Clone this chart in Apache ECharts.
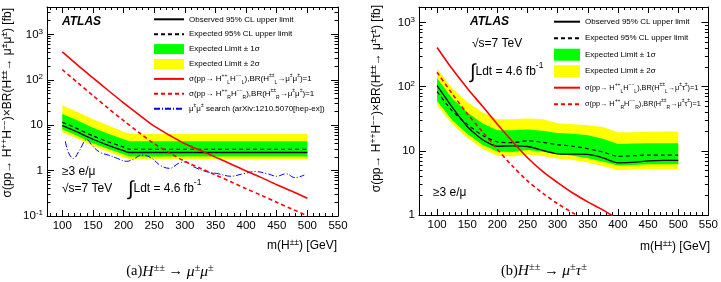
<!DOCTYPE html>
<html><head><meta charset="utf-8">
<script src="https://cdn.jsdelivr.net/npm/echarts@6/dist/echarts.min.js"></script>
<style>html,body{margin:0;padding:0;background:#fff}#c{width:721px;height:282px}</style>
</head><body><div id="c"></div>
<script>
// ---------- DATA: panel (a) H±± → μ±μ± ----------
const massTheoryA = [100,125,150,175,200,225,250,275,300,325,350,375,400,425,450,475,500];
const sigmaLA = [410,210,110,58,31,17,9.5,6.0,3.9,2.8,1.98,1.4,0.98,0.7,0.49,0.35,0.245];
const sigmaRA = [168,86,45,23.5,12.6,6.9,3.9,2.45,1.6,1.13,0.8,0.57,0.4,0.285,0.2,0.142,0.1];
const massLimA = [100,110,125,150,175,200,210,250,300,350,400,450,500];
const obsA    = [9.8,8.6,7.0,4.9,3.6,2.75,2.5,2.5,2.5,2.5,2.5,2.5,2.5];
const expA    = [11.5,10.2,8.3,5.8,4.3,3.3,2.95,2.95,2.95,2.95,2.95,2.95,2.95];
const oneUpA  = [17.6,15.5,12.6,8.8,6.5,4.9,4.4,4.4,4.4,4.4,4.4,4.4,4.4];
const oneDnA  = [8.0,7.1,5.8,4.0,3.0,2.3,2.05,2.05,2.05,2.05,2.05,2.05,2.05];
const twoUpA  = [27,24,19.5,13.5,9.8,7.2,6.4,6.4,6.4,6.4,6.4,6.4,6.4];
const twoDnA  = [6.9,6.1,5.0,3.5,2.6,1.95,1.78,1.78,1.78,1.78,1.78,1.78,1.78];
const massBlueA = [105,110,118,128,140,150,162,175,190,205,215,230,245,260,275,290,300,315,335,355,375,395,415,435,450,465,480,495];
const blueA     = [4.4,2.5,1.85,2.8,4.8,3.4,2.5,2.2,1.85,1.6,1.75,2.2,1.9,1.3,1.12,1.45,1.55,1.2,0.95,0.85,0.75,0.85,0.95,0.85,0.75,0.85,0.7,0.8];

// ---------- DATA: panel (b) H±± → μ±τ± ----------
const massTheoryB = [100,125,150,175,200,225,250,275,300,325,350,375,400];
const sigmaLB = [410,190,95,50,26,14,7.8,4.8,3.2,2.2,1.6,1.2,0.85];
const sigmaRB = [168,78,38,20,10.5,5.8,3.4,2.2,1.5,1.08,0.78,0.57,0.42];
const massLimB = [100,125,150,175,200,225,250,275,300,325,350,375,400,425,450,475,500];
const obsB   = [104,48,24,15,11.8,12.0,11.7,10.2,9.0,8.9,8.8,7.8,6.5,6.6,7.0,7.1,7.1];
const expB   = [84,42,26,17.5,13.8,13.4,14.4,13.6,12.5,11.8,10.8,9.6,8.2,8.4,8.6,8.6,8.6];
const oneUpB = [135,66,40,27,21,21,21.5,20.5,19,18.5,17.5,15.5,12.8,13,13.2,13.2,13.2];
const oneDnB = [60,30,18.5,12.5,9.8,9.6,10.3,9.7,8.9,8.4,7.7,6.8,5.9,6.0,6.2,6.2,6.2];
const twoUpB = [190,95,58,40,31,31,32,31,27,26,25,23.5,19.5,19.5,19.8,20,20];
const twoDnB = [52,26,16,10.8,8.4,8.2,8.8,8.3,7.6,7.2,6.6,5.8,5.0,5.1,5.2,5.2,5.2];

// ---------- AXIS TICKS ----------
const xTickLabels = [100,150,200,250,300,350,400,450,500,550];
const xMinorA = []; for (let v = 80; v <= 550; v += 10) if (v % 50) xMinorA.push(v);
const xMinorB = []; for (let v = 80; v <= 550; v += 10) if (v % 50) xMinorB.push(v);
const yDecadesA = [-1,0,1,2,3];
const yDecadesB = [0,1,2,3];
function minorLogs(lo, hi, maxV){ const r=[]; for(let e=lo;e<=hi;e++) for(let k=2;k<=9;k++){const v=k*Math.pow(10,e); if(v<maxV) r.push(Math.log10(v));} return r; }
const Y_MIN_A = 0.1, Y_MAX_A = 4000, Y_MIN_B = 1, Y_MAX_B = 1750;
const X_MIN_A = 75, X_MIN_B = 70, X_MAX = 550;

const FONT = "'Liberation Sans', Arial, Helvetica, sans-serif";
const SERIF = "'Liberation Serif', 'Times New Roman', serif";
const pairs = (xs, ys) => xs.map((x,i)=>[x, ys[i]]);

const chart = echarts.init(document.getElementById('c'), null, {renderer:'canvas'});

function xAxes(g, min){
  const minor = g===0 ? xMinorA : xMinorB;
  const base = {gridIndex:g, type:'value', min:min, max:X_MAX, splitLine:{show:false}};
  return [
    Object.assign({}, base, {position:'bottom', axisLine:{show:true, onZero:false, lineStyle:{color:'#000', width:1}},
      axisTick:{show:true, inside:true, length:6, customValues:xTickLabels, lineStyle:{color:'#000'}},
      axisLabel:{show:true, customValues:xTickLabels, fontSize:11.5, fontFamily:FONT, color:'#000', margin:4}}),
    Object.assign({}, base, {position:'bottom', axisLine:{show:false, onZero:false},
      axisTick:{show:true, inside:true, length:3, customValues:minor, lineStyle:{color:'#000'}}, axisLabel:{show:false}}),
    Object.assign({}, base, {position:'top', axisLine:{show:true, onZero:false, lineStyle:{color:'#000', width:1}},
      axisTick:{show:true, inside:true, length:6, customValues:xTickLabels, lineStyle:{color:'#000'}}, axisLabel:{show:false}}),
    Object.assign({}, base, {position:'top', axisLine:{show:false, onZero:false},
      axisTick:{show:true, inside:true, length:3, customValues:minor, lineStyle:{color:'#000'}}, axisLabel:{show:false}})
  ];
}
function decLabel(v){
  const e = Math.round(v);
  if (e === 0) return '1';
  if (e === 1) return '10';
  return '10{s|' + (e<0 ? '-' : '') + Math.abs(e) + '}';
}
function yAxes(g, ymin, ymax, decades){
  const lmin = Math.log10(ymin), lmax = Math.log10(ymax);
  const minor = minorLogs(Math.floor(lmin), Math.floor(lmax), ymax).filter(v=>v>lmin);
  const hb = {gridIndex:g, type:'value', min:lmin, max:lmax, splitLine:{show:false}};
  return [
    {gridIndex:g, type:'log', logBase:10, min:ymin, max:ymax, position:'left',
      axisLine:{show:true, onZero:false, lineStyle:{color:'#000', width:1}}, axisTick:{show:false}, axisLabel:{show:false}, splitLine:{show:false}, minorTick:{show:false}},
    Object.assign({}, hb, {position:'left', axisLine:{show:false, onZero:false},
      axisTick:{show:true, inside:true, length:7, customValues:decades, lineStyle:{color:'#000'}},
      axisLabel:{show:true, customValues:decades, formatter:decLabel, fontSize:11.5, fontFamily:FONT, color:'#000', margin:4, lineHeight:14,
        rich:{s:{fontSize:8, lineHeight:8, verticalAlign:'top', fontFamily:FONT, color:'#000'}}}}),
    Object.assign({}, hb, {position:'left', axisLine:{show:false, onZero:false},
      axisTick:{show:true, inside:true, length:3.5, customValues:minor, lineStyle:{color:'#000'}}, axisLabel:{show:false}}),
    Object.assign({}, hb, {position:'right', axisLine:{show:true, onZero:false, lineStyle:{color:'#000', width:1}},
      axisTick:{show:true, inside:true, length:7, customValues:decades, lineStyle:{color:'#000'}}, axisLabel:{show:false}}),
    Object.assign({}, hb, {position:'right', axisLine:{show:false, onZero:false},
      axisTick:{show:true, inside:true, length:3.5, customValues:minor, lineStyle:{color:'#000'}}, axisLabel:{show:false}})
  ];
}

function band(name, xi, yi, masses, lo, hi, color){
  return {type:'custom', name:name, xAxisIndex:xi, yAxisIndex:yi, z:1, silent:true,
    itemStyle:{color:color}, data:[[masses[0], hi[0]]],
    renderItem:function(params, api){
      const pts = [];
      for (let i=0;i<masses.length;i++) pts.push(api.coord([masses[i], hi[i]]));
      for (let i=masses.length-1;i>=0;i--) pts.push(api.coord([masses[i], lo[i]]));
      return {type:'polygon', shape:{points:pts}, style:{fill:color}};
    }};
}
function line(name, xi, yi, xs, ys, color, width, type, smooth){
  return {type:'line', name:name, xAxisIndex:xi, yAxisIndex:yi, z:3, data:pairs(xs, ys), symbol:'none', smooth:smooth,
    clip:true, lineStyle:{color:color, width:width, type:type}, itemStyle:{color:color}, silent:true};
}

const DASH = [4,3];
const series = [
  band('band2A',0,0,massLimA,twoDnA,twoUpA,'#ffff00'),
  band('band1A',0,0,massLimA,oneDnA,oneUpA,'#00ff00'),
  line('expA',0,0,massLimA,expA,'#000',1.2,DASH,0.2),
  line('obsA',0,0,massLimA,obsA,'#000',1.3,'solid',0.2),
  line('blueA',0,0,massBlueA,blueA,'#0000ff',1,[6,2,1,2],0.4),
  line('sigLA',0,0,massTheoryA,sigmaLA,'#ff0000',1.6,'solid',0.3),
  line('sigRA',0,0,massTheoryA,sigmaRA,'#ff0000',1.6,DASH,0.3),

  band('band2B',4,5,massLimB,twoDnB,twoUpB,'#ffff00'),
  band('band1B',4,5,massLimB,oneDnB,oneUpB,'#00ff00'),
  line('expB',4,5,massLimB,expB,'#000',1.2,DASH,0.2),
  line('obsB',4,5,massLimB,obsB,'#000',1.3,'solid',0.2),
  line('sigLB',4,5,massTheoryB,sigmaLB,'#ff0000',1.6,'solid',0.3),
  line('sigRB',4,5,massTheoryB,sigmaRB,'#ff0000',1.6,DASH,0.3)
];

const legendText = {
  obsA:'Observed 95% CL upper limit', obsB:'Observed 95% CL upper limit',
  expA:'Expected 95% CL upper limit', expB:'Expected 95% CL upper limit',
  band1A:'Expected Limit ± 1σ', band1B:'Expected Limit ± 1σ',
  band2A:'Expected Limit ± 2σ', band2B:'Expected Limit ± 2σ',
  sigLA:'σ(pp→ H{p|++}{b|L}H{p|−−}{b|L}),BR(H{p|±±}{b|L}→μ{p|±}μ{p|±})=1',
  sigRA:'σ(pp→ H{p|++}{b|R}H{p|−−}{b|R}),BR(H{p|±±}{b|R}→μ{p|±}μ{p|±})=1',
  sigLB:'σ(pp→ H{p|++}{b|L}H{p|−−}{b|L}),BR(H{p|±±}{b|L}→μ{p|±}τ{p|±})=1',
  sigRB:'σ(pp→ H{p|++}{b|R}H{p|−−}{b|R}),BR(H{p|±±}{b|R}→μ{p|±}τ{p|±})=1',
  blueA:'μ{p|±}μ{p|±} search (arXiv:1210.5070[hep-ex])'
};
const legRich = {p:{fontSize:5, lineHeight:7, verticalAlign:'top', fontFamily:FONT, color:'#000'},
                 b:{fontSize:5, lineHeight:7, verticalAlign:'bottom', fontFamily:FONT, color:'#000'}};
function legend(left, top, iw, ih, gap, names, sigSize){
  return {left:left, top:top, orient:'vertical', padding:0, itemWidth:iw, itemHeight:ih, itemGap:gap, selectedMode:false,
    data:names.map(n => n.indexOf('band')===0 ? {name:n, icon:'rect'} :
      (n.indexOf('sig')===0 ? {name:n, itemStyle:{opacity:0, color:'rgba(0,0,0,0)', borderWidth:0}, textStyle:{fontSize:sigSize}}
                            : {name:n, itemStyle:{opacity:0, color:'rgba(0,0,0,0)', borderWidth:0}})),
    formatter:n => legendText[n],
    textStyle:{fontSize:8, fontFamily:FONT, color:'#000', lineHeight:12, rich:legRich}};
}

function txt(x, y, text, opts){
  return {type:'text', x:x, y:y, silent:true, style:Object.assign({text:text, fill:'#000', fontSize:12, fontFamily:FONT, align:'left', verticalAlign:'middle'}, opts||{})};
}
const supRich = {s:{fontSize:8.5, lineHeight:9, verticalAlign:'top', fontFamily:FONT, fill:'#000'},
                 i:{fontSize:20, fontFamily:FONT, fill:'#000', lineHeight:22}};
const serRich = {it:{fontSize:15.5, fontStyle:'italic', fontFamily:SERIF, fill:'#000'},
                 s:{fontSize:10.5, lineHeight:10, verticalAlign:'top', fontFamily:SERIF, fill:'#000'}};

const graphics = [
  txt(8, 8, 'σ(pp→ H{s|++}H{s|−−})×BR(H{s|±±}→ μ{s|±}μ{s|±}) [fb]', {align:'right', lineHeight:16, rich:supRich}),
  txt(377, 5, 'σ(pp→ H{s|++}H{s|−−})×BR(H{s|±±}→ μ{s|±}τ{s|±}) [fb]', {align:'right', lineHeight:16, rich:supRich}),
  txt(62, 21.5, 'ATLAS', {fontWeight:'bold', fontStyle:'italic', fontSize:12}),
  txt(62, 172, '≥3 e/μ'),
  txt(62, 189, '√s=7 TeV'),
  txt(128, 189, '{i|∫}Ldt = 4.6 fb{s|-1}', {lineHeight:16, rich:supRich}),
  txt(470, 21.7, 'ATLAS', {fontWeight:'bold', fontStyle:'italic', fontSize:12}),
  txt(472, 43.3, '√s=7 TeV'),
  txt(470, 72, '{i|∫}Ldt = 4.6 fb{s|-1}', {lineHeight:16, rich:supRich}),
  txt(433, 193, '≥3 e/μ'),
  txt(337, 245.7, 'm(H{s|±±}) [GeV]', {align:'right', lineHeight:16, rich:supRich}),
  txt(710, 246.7, 'm(H{s|±±}) [GeV]', {align:'right', lineHeight:16, rich:supRich}),
  txt(170, 271.5, '(a){it|H}{s|±±} → {it|μ}{s|±}{it|μ}{s|±}', {align:'center', fontFamily:SERIF, fontSize:14.5, lineHeight:18, rich:serRich}),
  txt(544, 271, '(b){it|H}{s|±±} → {it|μ}{s|±}{it|τ}{s|±}', {align:'center', fontFamily:SERIF, fontSize:14.5, lineHeight:18, rich:serRich})
];
graphics[0].rotation = Math.PI/2;
graphics[1].rotation = Math.PI/2;

chart.setOption({
  animation:false,
  backgroundColor:'#fff',
  grid:[{left:47, top:7, width:291, height:209}, {left:419, top:7, width:290, height:208}],
  xAxis: xAxes(0, X_MIN_A).concat(xAxes(1, X_MIN_B)),
  yAxis: yAxes(0, Y_MIN_A, Y_MAX_A, yDecadesA).concat(yAxes(1, Y_MIN_B, Y_MAX_B, yDecadesB)),
  legend:[
    legend(153, 13.3, 30, 10, 2.9, ['obsA','expA','band1A','band2A','sigLA','sigRA','blueA'], 8),
    legend(553, 15.7, 26, 12, 4.5, ['obsB','expB','band1B','band2B','sigLB','sigRB'], 7.3)
  ],
  series: series,
  graphic: graphics
});
</script></body></html>
